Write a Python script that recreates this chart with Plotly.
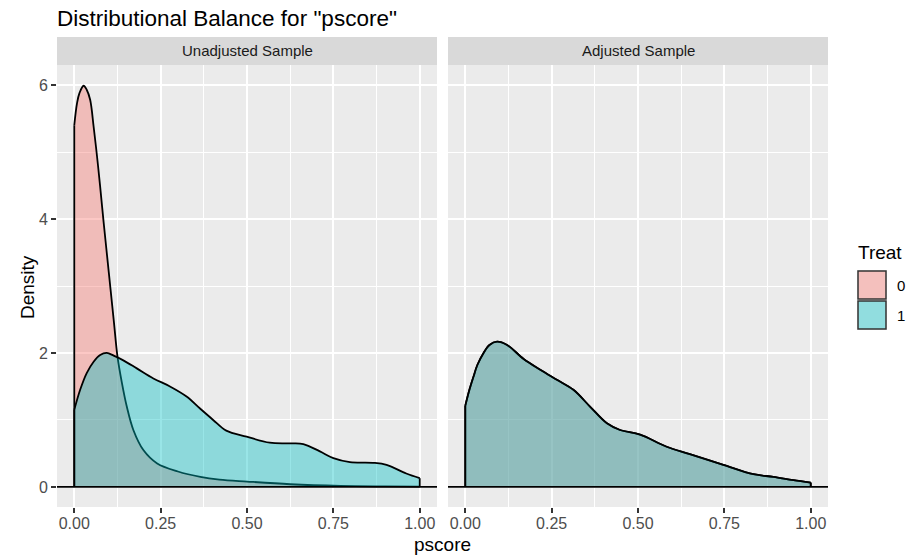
import plotly.graph_objects as go

# ---------------- data ----------------
panels = ["Unadjusted Sample", "Adjusted Sample"]
treat_levels = ["0", "1"]

# Unadjusted, Treat = 0
unadj_t0_x = [0, 0.008, 0.015, 0.027, 0.036, 0.046, 0.056, 0.066, 0.075, 0.085, 0.095,
              0.105, 0.115, 0.125, 0.138, 0.152, 0.171, 0.200, 0.240, 0.300, 0.365,
              0.420, 0.500, 0.625, 0.770, 0.900, 1.000]
unadj_t0_y = [5.40, 5.73, 5.88, 5.99, 5.93, 5.78, 5.38, 4.93, 4.48, 3.95, 3.45,
              2.95, 2.45, 1.95, 1.55, 1.20, 0.85, 0.55, 0.35, 0.23, 0.15,
              0.11, 0.08, 0.04, 0.015, 0.008, 0.005]

# Unadjusted, Treat = 1
unadj_t1_x = [0, 0.017, 0.036, 0.056, 0.075, 0.094, 0.114, 0.142, 0.181, 0.229, 0.277,
              0.325, 0.364, 0.402, 0.440, 0.499, 0.566, 0.624, 0.663, 0.711, 0.750,
              0.798, 0.865, 0.904, 0.961, 1.000]
unadj_t1_y = [1.15, 1.45, 1.70, 1.87, 1.97, 2.00, 1.96, 1.89, 1.77, 1.62, 1.50,
              1.35, 1.17, 1.00, 0.84, 0.75, 0.66, 0.65, 0.64, 0.53, 0.43,
              0.37, 0.36, 0.33, 0.20, 0.13]

# Adjusted (both groups coincide after weighting)
adj_x = [0, 0.012, 0.024, 0.035, 0.053, 0.070, 0.092, 0.121, 0.169, 0.217, 0.265,
         0.313, 0.361, 0.410, 0.448, 0.506, 0.583, 0.650, 0.747, 0.834, 0.892,
         0.950, 1.000]
adj_t0_y = [1.21, 1.45, 1.65, 1.82, 2.00, 2.12, 2.17, 2.12, 1.91, 1.75, 1.60,
            1.45, 1.20, 0.95, 0.85, 0.78, 0.60, 0.49, 0.33, 0.19, 0.15,
            0.10, 0.065]
adj_t1_y = list(adj_t0_y)

x_ticks = [0, 0.25, 0.5, 0.75, 1.0]
x_tick_labels = ["0.00", "0.25", "0.50", "0.75", "1.00"]
y_ticks = [0, 2, 4, 6]
y_tick_labels = ["0", "2", "4", "6"]

# ---------------- styling ----------------
FONT = "Liberation Sans, Arial, Helvetica, sans-serif"
fill_colors = {"0": "rgba(248,118,109,0.4)", "1": "rgba(0,191,196,0.4)"}
W, H = 916, 555
ML, MR, MT, MB = 57, 88, 37, 48
PW, PH = W - ML - MR, H - MT - MB


def px_x(p):
    return (p - ML) / PW


def px_y(p):
    return (H - MB - p) / PH


fig = go.Figure()

series = [
    ("x", "y", unadj_t0_x, unadj_t0_y, "0"),
    ("x", "y", unadj_t1_x, unadj_t1_y, "1"),
    ("x2", "y2", adj_x, adj_t0_y, "0"),
    ("x2", "y2", adj_x, adj_t1_y, "1"),
]
for xa, ya, xs, ys, lvl in series:
    # smooth density curve with area fill down to zero
    fig.add_trace(go.Scatter(
        x=xs, y=ys, xaxis=xa, yaxis=ya, mode="lines",
        line=dict(color="black", width=1.8, shape="spline", smoothing=1.0),
        fill="tozeroy", fillcolor=fill_colors[lvl], showlegend=False,
        hoverinfo="skip"))
    # vertical outline edges at both ends of the density polygon
    fig.add_trace(go.Scatter(
        x=[xs[0], xs[0], None, xs[-1], xs[-1]],
        y=[0, ys[0], None, ys[-1], 0], xaxis=xa, yaxis=ya, mode="lines",
        line=dict(color="black", width=1.8), showlegend=False, hoverinfo="skip"))

strip_top = 1.0
strip_bot = px_y(65)
dom1 = [0, px_x(437)]
dom2 = [px_x(448), 1]

axis_common = dict(
    showgrid=True, gridcolor="white", gridwidth=2, zeroline=False,
    showline=False, ticks="outside", ticklen=5, tickwidth=1.5, tickcolor="#333333",
    tickfont=dict(family=FONT, size=16, color="#4D4D4D"),
)
xaxis_common = dict(axis_common, range=[-0.05, 1.05], tickvals=x_ticks,
                    ticktext=x_tick_labels, ticklabelstandoff=-3,
                    minor=dict(dtick=0.125, tick0=0, showgrid=True,
                               gridcolor="white", gridwidth=1))
yaxis_common = dict(axis_common, range=[-0.3, 6.3], tickvals=y_ticks,
                    ticktext=y_tick_labels,
                    minor=dict(dtick=1, tick0=0, showgrid=True,
                               gridcolor="white", gridwidth=1))

fig.update_layout(
    width=W, height=H,
    margin=dict(l=ML, r=MR, t=MT, b=MB),
    paper_bgcolor="white", plot_bgcolor="#EBEBEB",
    font=dict(family=FONT, color="black"),
    xaxis=dict(xaxis_common, domain=dom1, anchor="y"),
    xaxis2=dict(xaxis_common, domain=dom2, anchor="y2"),
    yaxis=dict(yaxis_common, domain=[0, strip_bot], anchor="x"),
    yaxis2=dict(yaxis_common, domain=[0, strip_bot], anchor="x2",
                showticklabels=False, ticks=""),
    showlegend=False,
)

shapes = []
annotations = []
# strips
for dom, label in zip([dom1, dom2], panels):
    shapes.append(dict(type="rect", xref="paper", yref="paper",
                       x0=dom[0], x1=dom[1], y0=strip_bot, y1=strip_top,
                       fillcolor="#D9D9D9", line=dict(width=0), layer="below"))
    annotations.append(dict(text=label, xref="paper", yref="paper",
                            x=(dom[0] + dom[1]) / 2, y=(strip_bot + strip_top) / 2,
                            xanchor="center", yanchor="middle", showarrow=False,
                            font=dict(family=FONT, size=15, color="#1A1A1A")))
# horizontal line at zero in each panel
for xr, yr in [("x domain", "y"), ("x2 domain", "y2")]:
    shapes.append(dict(type="line", xref=xr, yref=yr, x0=0, x1=1, y0=0, y1=0,
                       line=dict(color="black", width=1.8), layer="above"))

# title & axis titles
annotations.append(dict(text='Distributional Balance for "pscore"', xref="paper",
                        yref="paper", x=px_x(55), y=px_y(18), xanchor="left",
                        yanchor="middle", showarrow=False,
                        font=dict(family=FONT, size=22.5, color="black")))
annotations.append(dict(text="pscore", xref="paper", yref="paper", x=0.5,
                        y=px_y(544), xanchor="center", yanchor="middle",
                        showarrow=False, font=dict(family=FONT, size=19, color="black")))
annotations.append(dict(text="Density", xref="paper", yref="paper", x=px_x(27),
                        y=px_y(287), xanchor="center", yanchor="middle", textangle=-90,
                        showarrow=False, font=dict(family=FONT, size=19, color="black")))

# legend
annotations.append(dict(text="Treat", xref="paper", yref="paper", x=px_x(856),
                        y=px_y(252), xanchor="left", yanchor="middle",
                        showarrow=False, font=dict(family=FONT, size=19, color="black")))
key_tops = [270, 300]
for lvl, top in zip(treat_levels, key_tops):
    shapes.append(dict(type="rect", xref="paper", yref="paper",
                       x0=px_x(857), x1=px_x(887), y0=px_y(top + 30), y1=px_y(top),
                       fillcolor="#F2F2F2", line=dict(width=0)))
    shapes.append(dict(type="rect", xref="paper", yref="paper",
                       x0=px_x(858), x1=px_x(886), y0=px_y(top + 29), y1=px_y(top + 1),
                       fillcolor=fill_colors[lvl], line=dict(color="#333333", width=1.5)))
    annotations.append(dict(text=lvl, xref="paper", yref="paper", x=px_x(895),
                            y=px_y(top + 15), xanchor="left", yanchor="middle",
                            showarrow=False,
                            font=dict(family=FONT, size=15, color="black")))

fig.update_layout(shapes=shapes, annotations=annotations)
fig.write_html("out.html")
